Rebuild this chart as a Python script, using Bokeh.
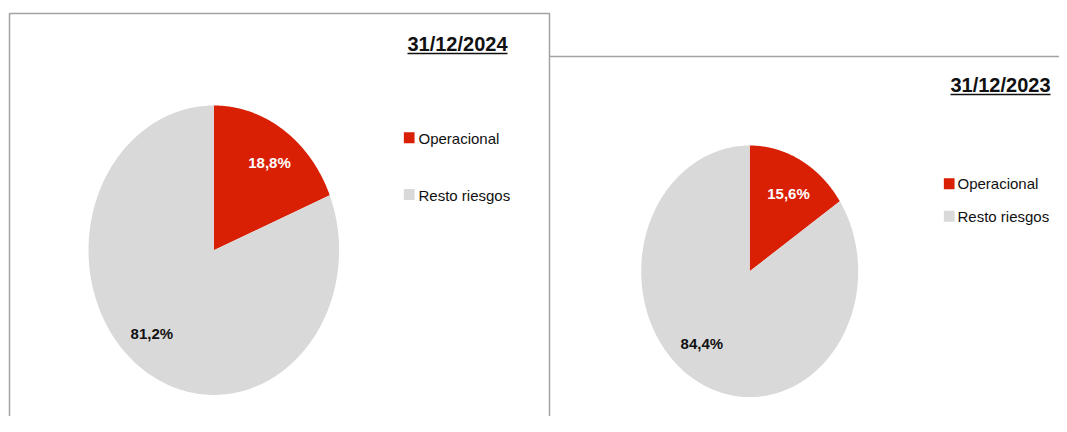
import numpy as np
from bokeh.plotting import figure
from bokeh.models import Range1d, ColumnDataSource
from bokeh.core.properties import value
from bokeh.embed import file_html
from bokeh.resources import INLINE

# ---- data ----
categories = ["Operacional", "Resto riesgos"]
dates = ["31/12/2024", "31/12/2023"]
vals_2024 = [18.8, 81.2]
vals_2023 = [15.6, 84.4]
colors = ["#D91F04", "#D9D9D9"]
label_colors = ["white", "#111111"]

# ---- layout (pixels of the picture) ----
W, H = 1059, 416
panels = [
    dict(vals=vals_2024, date=dates[0], cx=213.3, cy=249.7, rx=125.3, ry=144.7,
         title_right=507, title_mid=43.0, title_left=407, ul_y=53.0,
         leg_sq_x=408.7, leg_sq_y=[137.2, 194.0], leg_tx=418, leg_mid=[138.0, 194.6],
         lab_pos=[(269.0, 162.0), (151.3, 333.0)]),
    dict(vals=vals_2023, date=dates[1], cx=749.2, cy=270.8, rx=108.5, ry=125.8,
         title_right=1050, title_mid=84.2, title_left=950, ul_y=94.0,
         leg_sq_x=948.7, leg_sq_y=[183.3, 215.7], leg_tx=957, leg_mid=[183.0, 216.4],
         lab_pos=[(788.0, 192.5), (701.3, 342.5)]),
]

p = figure(width=W, height=H, output_backend="svg", toolbar_location=None,
           x_range=Range1d(0, W), y_range=Range1d(H, 0),
           min_border=0, outline_line_color=None)
p.axis.visible = False
p.grid.visible = False
p.background_fill_color = "white"
p.border_fill_color = "white"

FONT = value("Liberation Sans")
BORDER = "#A3A3A3"

# panel frames
p.line([9, 9, 549, 549], [H + 20, 13, 13, H + 20], line_color=BORDER, line_width=1.5)
p.line([549, W + 20], [56, 56], line_color=BORDER, line_width=1.5)

for pan in panels:
    vals = np.array(pan["vals"], dtype=float)
    frac = vals / vals.sum()
    edges = np.concatenate([[0.0], np.cumsum(frac)]) * 2 * np.pi
    xs, ys = [], []
    for i in range(len(vals)):
        th = np.linspace(edges[i], edges[i + 1], 200)
        x = np.concatenate([[pan["cx"]], pan["cx"] + pan["rx"] * np.sin(th), [pan["cx"]]])
        y = np.concatenate([[pan["cy"]], pan["cy"] - pan["ry"] * np.cos(th), [pan["cy"]]])
        xs.append(list(x))
        ys.append(list(y))
    p.patches(xs=xs, ys=ys, fill_color=colors, line_color=None)

    # slice labels
    labels = [f"{v:.1f}%".replace(".", ",") for v in vals]
    src = ColumnDataSource(dict(x=[q[0] for q in pan["lab_pos"]],
                                y=[q[1] for q in pan["lab_pos"]],
                                t=labels, c=label_colors))
    p.text(x="x", y="y", text="t", text_color="c", source=src,
           text_font=FONT, text_font_style="bold", text_font_size="15px",
           text_align="center", text_baseline="middle")

    # title with underline
    p.text(x=[pan["title_right"]], y=[pan["title_mid"]], text=[pan["date"]],
           text_font=FONT, text_font_style="bold", text_font_size="20px",
           text_color="#111111", text_align="right", text_baseline="middle")
    p.line([pan["title_left"], pan["title_right"]], [pan["ul_y"]] * 2,
           line_color="#111111", line_width=1.3)

    # legend
    p.rect(x=[pan["leg_sq_x"]] * 2, y=pan["leg_sq_y"], width=10.7, height=11,
           fill_color=colors, line_color=None)
    p.text(x=[pan["leg_tx"]] * 2, y=pan["leg_mid"], text=categories,
           text_font=FONT, text_font_size="15px", text_color="#111111",
           text_align="left", text_baseline="middle")

open("out.html", "w").write(file_html(p, INLINE))
